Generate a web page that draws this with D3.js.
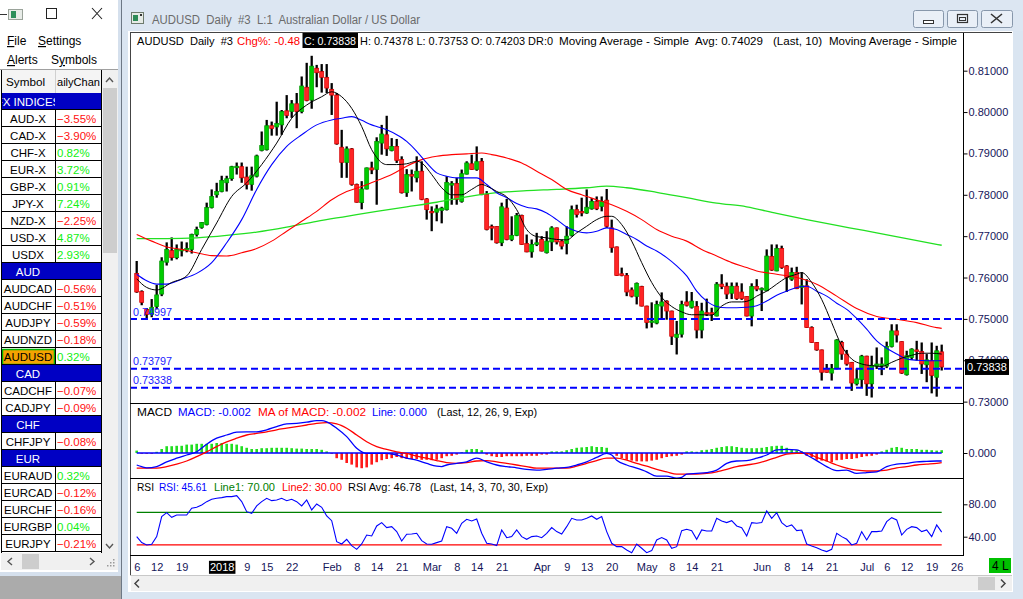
<!DOCTYPE html>
<html>
<head>
<meta charset="utf-8">
<script src="https://cdn.jsdelivr.net/npm/d3@7"></script>
<style>
body{margin:0;overflow:hidden;background:#dae5f1}
svg{display:block;font-family:"Liberation Sans",Arial,sans-serif}
</style>
</head>
<body>
<svg id="chart" width="1023" height="599"></svg>
<script>
// ---- data ----
var firstDay = "2017-12-06", lastDay = "2018-07-31";
var holidays = ["2017-12-25", "2018-01-01"];

// [open, high, low, close] per trading day
var candles = [
[0.7610,0.7640,0.7563,0.7565],[0.7566,0.7569,0.7533,0.7540],[0.7523,0.7526,0.7502,0.7511],[0.7511,0.7548,0.7504,0.7528],
[0.7530,0.7582,0.7523,0.7558],[0.7560,0.7649,0.7555,0.7640],[0.7637,0.7685,0.7629,0.7668],[0.7665,0.7697,0.7641,0.7648],
[0.7648,0.7680,0.7644,0.7668],[0.7665,0.7687,0.7651,0.7668],[0.7668,0.7685,0.7661,0.7670],[0.7668,0.7706,0.7658,0.7704],
[0.7704,0.7723,0.7699,0.7716],[0.7721,0.7734,0.7718,0.7733],[0.7728,0.7781,0.7726,0.7769],[0.7769,0.7813,0.7767,0.7796],
[0.7800,0.7829,0.7793,0.7808],[0.7808,0.7846,0.7806,0.7835],[0.7829,0.7846,0.7808,0.7839],[0.7839,0.7870,0.7834,0.7868],
[0.7866,0.7878,0.7849,0.7869],[0.7868,0.7878,0.7829,0.7841],[0.7843,0.7868,0.7813,0.7825],[0.7825,0.7868,0.7810,0.7846],
[0.7845,0.7897,0.7842,0.7894],[0.7907,0.7953,0.7905,0.7919],[0.7909,0.7981,0.7907,0.7967],[0.7967,0.7977,0.7943,0.7960],
[0.7964,0.8025,0.7943,0.7972],[0.7969,0.8005,0.7945,0.8001],[0.8003,0.8041,0.7985,0.7992],[0.8001,0.8029,0.7986,0.8020],
[0.8020,0.8046,0.7961,0.8001],[0.8001,0.8086,0.7997,0.8063],[0.8060,0.8119,0.8026,0.8028],[0.8029,0.8136,0.8008,0.8111],
[0.8106,0.8114,0.8060,0.8095],[0.8098,0.8116,0.8047,0.8084],[0.8084,0.8116,0.8046,0.8058],[0.8055,0.8070,0.7993,0.8041],
[0.8041,0.8046,0.7921,0.7923],[0.7915,0.7957,0.7841,0.7878],[0.7878,0.7917,0.7841,0.7911],[0.7911,0.7913,0.7822,0.7825],
[0.7825,0.7827,0.7781,0.7782],[0.7781,0.7833,0.7765,0.7814],[0.7814,0.7866,0.7813,0.7865],[0.7865,0.7880,0.7850,0.7860],
[0.7861,0.7939,0.7776,0.7929],[0.7925,0.7969,0.7897,0.7947],[0.7945,0.7991,0.7894,0.7911],[0.7907,0.7937,0.7905,0.7917],
[0.7917,0.7935,0.7877,0.7883],[0.7885,0.7893,0.7803,0.7805],[0.7805,0.7862,0.7795,0.7849],[0.7849,0.7861,0.7808,0.7845],
[0.7841,0.7893,0.7830,0.7857],[0.7857,0.7881,0.7787,0.7789],[0.7790,0.7792,0.7740,0.7764],[0.7760,0.7772,0.7712,0.7758],
[0.7758,0.7776,0.7736,0.7766],[0.7762,0.7771,0.7731,0.7768],[0.7764,0.7845,0.7762,0.7830],[0.7825,0.7833,0.7776,0.7827],
[0.7827,0.7841,0.7776,0.7789],[0.7784,0.7861,0.7781,0.7851],[0.7850,0.7881,0.7849,0.7877],[0.7875,0.7897,0.7860,0.7861],
[0.7861,0.7917,0.7858,0.7880],[0.7881,0.7889,0.7799,0.7801],[0.7801,0.7809,0.7714,0.7716],[0.7723,0.7728,0.7690,0.7720],
[0.7723,0.7724,0.7682,0.7684],[0.7684,0.7781,0.7676,0.7771],[0.7768,0.7790,0.7690,0.7692],[0.7692,0.7748,0.7688,0.7702],
[0.7702,0.7756,0.7700,0.7750],[0.7750,0.7752,0.7679,0.7680],[0.7682,0.7704,0.7661,0.7662],[0.7662,0.7692,0.7648,0.7680],
[0.7680,0.7708,0.7676,0.7684],[0.7692,0.7700,0.7663,0.7664],[0.7660,0.7712,0.7658,0.7688],[0.7686,0.7724,0.7664,0.7720],
[0.7720,0.7721,0.7680,0.7686],[0.7688,0.7692,0.7668,0.7676],[0.7682,0.7724,0.7656,0.7700],[0.7702,0.7774,0.7699,0.7764],
[0.7764,0.7776,0.7745,0.7752],[0.7760,0.7793,0.7748,0.7756],[0.7756,0.7813,0.7754,0.7770],[0.7766,0.7792,0.7764,0.7784],
[0.7784,0.7796,0.7763,0.7766],[0.7772,0.7796,0.7760,0.7784],[0.7787,0.7814,0.7720,0.7724],[0.7720,0.7740,0.7660,0.7672],
[0.7674,0.7675,0.7604,0.7605],[0.7609,0.7624,0.7603,0.7605],[0.7605,0.7611,0.7555,0.7565],[0.7570,0.7576,0.7552,0.7555],
[0.7554,0.7588,0.7535,0.7586],[0.7578,0.7580,0.7530,0.7531],[0.7531,0.7532,0.7477,0.7491],[0.7493,0.7540,0.7479,0.7495],
[0.7490,0.7544,0.7487,0.7535],[0.7531,0.7564,0.7499,0.7541],[0.7543,0.7545,0.7498,0.7519],[0.7519,0.7520,0.7437,0.7458],
[0.7455,0.7495,0.7414,0.7463],[0.7463,0.7544,0.7455,0.7535],[0.7541,0.7567,0.7530,0.7533],[0.7528,0.7565,0.7525,0.7543],
[0.7530,0.7543,0.7453,0.7473],[0.7473,0.7539,0.7453,0.7519],[0.7515,0.7549,0.7507,0.7512],[0.7515,0.7527,0.7495,0.7512],
[0.7507,0.7589,0.7506,0.7584],[0.7584,0.7608,0.7572,0.7578],[0.7579,0.7588,0.7548,0.7560],[0.7562,0.7588,0.7548,0.7579],
[0.7579,0.7588,0.7546,0.7549],[0.7565,0.7586,0.7546,0.7549],[0.7554,0.7555,0.7506,0.7507],[0.7507,0.7586,0.7482,0.7578],
[0.7578,0.7596,0.7567,0.7572],[0.7570,0.7576,0.7519,0.7574],[0.7568,0.7668,0.7567,0.7652],[0.7651,0.7680,0.7616,0.7618],
[0.7616,0.7680,0.7615,0.7670],[0.7670,0.7677,0.7621,0.7624],[0.7628,0.7630,0.7565,0.7600],[0.7596,0.7624,0.7592,0.7612],
[0.7612,0.7626,0.7572,0.7573],[0.7576,0.7613,0.7535,0.7580],[0.7580,0.7596,0.7478,0.7479],[0.7479,0.7482,0.7442,0.7443],
[0.7443,0.7444,0.7423,0.7425],[0.7425,0.7426,0.7351,0.7371],[0.7380,0.7391,0.7370,0.7371],[0.7369,0.7391,0.7351,0.7380],
[0.7380,0.7451,0.7378,0.7449],[0.7443,0.7447,0.7401,0.7415],[0.7415,0.7425,0.7387,0.7391],[0.7395,0.7396,0.7326,0.7345],
[0.7343,0.7380,0.7339,0.7355],[0.7353,0.7413,0.7335,0.7410],[0.7410,0.7411,0.7314,0.7343],[0.7343,0.7411,0.7310,0.7387],
[0.7386,0.7431,0.7379,0.7391],[0.7387,0.7407,0.7364,0.7391],[0.7386,0.7445,0.7381,0.7433],[0.7433,0.7487,0.7431,0.7471],
[0.7471,0.7487,0.7443,0.7461],[0.7445,0.7446,0.7367,0.7369],[0.7365,0.7423,0.7363,0.7411],[0.7407,0.7429,0.7401,0.7427],
[0.7425,0.7447,0.7399,0.7421],[0.7421,0.7443,0.7367,0.7391],[0.7389,0.7415,0.7347,0.7401],[0.7399,0.7443,0.7320,0.7363],
[0.7359,0.7435,0.7312,0.7423],[0.74203,0.74378,0.73753,0.73838]
];

// moving averages: [bar number, value]
var ma10 = [[0,0.7597],[2,0.7576],[4,0.7570],[7,0.7588],[10,0.7604],[13,0.7668],[16,0.7732],[19,0.7796],[22,0.7829],[25,0.7873],[28,0.7925],[31,0.7985],[34,0.8017],[37,0.8037],[39,0.8049],[41,0.8037],[43,0.8009],[45,0.7965],[47,0.7909],[48,0.7890],[50,0.7873],[52,0.7873],[54,0.7875],[56,0.7881],[57,0.7877],[59,0.7849],[61,0.7817],[63,0.7800],[65,0.7800],[67,0.7813],[69,0.7825],[70,0.7821],[72,0.7808],[74,0.7795],[76,0.7764],[78,0.7716],[80,0.7699],[82,0.7696],[84,0.7692],[86,0.7691],[88,0.7708],[90,0.7724],[92,0.7740],[94,0.7748],[95,0.7748],[97,0.7728],[99,0.7688],[101,0.7636],[103,0.7588],[105,0.7552],[107,0.7530],[109,0.7517],[111,0.7510],[113,0.7510],[115,0.7509],[117,0.7531],[119,0.7541],[121,0.7541],[123,0.7547],[124,0.7555],[126,0.7567],[128,0.7584],[130,0.7600],[132,0.7608],[133,0.7612],[135,0.7588],[137,0.7547],[139,0.7491],[141,0.7435],[143,0.7403],[145,0.7391],[147,0.7387],[149,0.7385],[151,0.7395],[153,0.7405],[155,0.7412],[157,0.7417],[159,0.7417],[161,0.7415]];
var ma20 = [[0,0.7608],[2,0.7592],[4,0.7584],[6,0.7584],[9,0.7596],[12,0.7610],[15,0.7636],[18,0.7684],[21,0.7740],[24,0.7813],[27,0.7873],[30,0.7917],[33,0.7945],[36,0.7969],[39,0.7981],[41,0.7985],[43,0.7989],[45,0.7980],[47,0.7969],[48,0.7965],[50,0.7957],[52,0.7945],[54,0.7929],[56,0.7905],[58,0.7877],[60,0.7853],[62,0.7845],[64,0.7841],[66,0.7841],[68,0.7841],[70,0.7825],[72,0.7805],[74,0.7793],[76,0.7779],[78,0.7770],[80,0.7766],[82,0.7756],[84,0.7740],[86,0.7722],[88,0.7712],[90,0.7708],[92,0.7712],[94,0.7720],[96,0.7716],[98,0.7704],[100,0.7692],[102,0.7676],[104,0.7664],[106,0.7648],[108,0.7628],[110,0.7604],[112,0.7567],[114,0.7543],[116,0.7530],[118,0.7527],[120,0.7527],[122,0.7528],[124,0.7532],[126,0.7543],[128,0.7557],[130,0.7567],[132,0.7576],[134,0.7579],[136,0.7567],[138,0.7555],[140,0.7538],[142,0.7523],[144,0.7501],[146,0.7475],[148,0.7447],[150,0.7429],[152,0.7415],[154,0.7403],[156,0.7400],[158,0.7399],[160,0.7399],[161,0.7399]];
var ma50 = [[0,0.7704],[3,0.7688],[6,0.7674],[9,0.7668],[12,0.7660],[15,0.7653],[18,0.7652],[21,0.7660],[24,0.7670],[27,0.7688],[30,0.7712],[33,0.7736],[36,0.7760],[39,0.7788],[42,0.7808],[45,0.7820],[48,0.7834],[51,0.7849],[54,0.7869],[57,0.7885],[60,0.7893],[63,0.7897],[66,0.7899],[69,0.7901],[71,0.7897],[74,0.7889],[77,0.7877],[80,0.7857],[83,0.7837],[86,0.7813],[89,0.7800],[92,0.7788],[95,0.7776],[98,0.7760],[101,0.7740],[104,0.7716],[107,0.7700],[110,0.7688],[113,0.7668],[116,0.7652],[119,0.7636],[122,0.7624],[124,0.7616],[128,0.7608],[132,0.7600],[136,0.7584],[140,0.7555],[144,0.7525],[148,0.7506],[152,0.7499],[156,0.7491],[160,0.7479],[161,0.7477]];
var ma200 = [[0,0.7694],[6,0.7694],[12,0.7696],[18,0.7702],[24,0.7710],[30,0.7722],[36,0.7736],[42,0.7748],[48,0.7760],[54,0.7771],[60,0.7782],[66,0.7795],[72,0.7805],[78,0.7810],[84,0.7813],[90,0.7817],[94,0.7821],[98,0.7817],[104,0.7806],[110,0.7793],[116,0.7780],[122,0.7771],[128,0.7755],[134,0.7740],[140,0.7726],[144,0.7717],[148,0.7708],[154,0.7694],[161,0.7678]];

// MACD (12, 26, 9)
var macdLine = [[0,-0.0030],[1,-0.0034],[2,-0.0037],[4,-0.0034],[6,-0.0022],[8,-0.0013],[10,-0.0005],[12,0.0003],[14,0.0022],[16,0.0037],[18,0.0045],[20,0.0052],[22,0.0053],[24,0.0053],[26,0.0058],[28,0.0066],[30,0.0073],[32,0.0074],[34,0.0077],[36,0.0081],[37,0.0081],[38,0.0078],[40,0.0062],[42,0.0041],[44,0.0012],[46,-0.0001],[48,-0.0001],[50,-0.0001],[52,-0.0005],[54,-0.0013],[56,-0.0018],[58,-0.0026],[60,-0.0033],[61,-0.0034],[62,-0.0030],[64,-0.0026],[66,-0.0022],[68,-0.0013],[70,-0.0022],[72,-0.0030],[74,-0.0034],[76,-0.0037],[78,-0.0041],[80,-0.0043],[82,-0.0041],[84,-0.0038],[86,-0.0036],[88,-0.0030],[90,-0.0022],[92,-0.0011],[94,-0.0001],[95,-0.0005],[96,-0.0018],[98,-0.0030],[100,-0.0038],[102,-0.0047],[104,-0.0058],[106,-0.0058],[108,-0.0063],[109,-0.0061],[110,-0.0053],[112,-0.0051],[114,-0.0049],[116,-0.0043],[118,-0.0026],[120,-0.0020],[122,-0.0019],[124,-0.0013],[126,-0.0005],[128,0.0008],[130,0.0009],[132,0.0008],[134,-0.0005],[136,-0.0019],[138,-0.0034],[140,-0.0044],[142,-0.0043],[144,-0.0051],[146,-0.0049],[148,-0.0047],[150,-0.0034],[152,-0.0028],[154,-0.0026],[156,-0.0022],[158,-0.0021],[160,-0.0020],[161,-0.0020]];
var macdSignal = [[0,-0.0038],[2,-0.0038],[4,-0.0038],[6,-0.0034],[8,-0.0028],[10,-0.0020],[12,-0.0009],[14,0.0003],[16,0.0016],[18,0.0028],[20,0.0037],[22,0.0045],[24,0.0049],[26,0.0053],[28,0.0058],[30,0.0062],[32,0.0066],[34,0.0070],[36,0.0074],[38,0.0076],[40,0.0073],[42,0.0062],[44,0.0045],[46,0.0028],[48,0.0016],[50,0.0009],[52,0.0003],[54,-0.0001],[56,-0.0008],[58,-0.0013],[60,-0.0019],[62,-0.0024],[64,-0.0026],[66,-0.0024],[68,-0.0020],[70,-0.0019],[72,-0.0022],[74,-0.0026],[76,-0.0030],[78,-0.0034],[80,-0.0038],[82,-0.0038],[84,-0.0038],[86,-0.0038],[88,-0.0033],[90,-0.0026],[92,-0.0019],[94,-0.0013],[96,-0.0013],[98,-0.0018],[100,-0.0026],[102,-0.0033],[104,-0.0041],[106,-0.0047],[108,-0.0053],[110,-0.0053],[112,-0.0053],[114,-0.0051],[116,-0.0047],[118,-0.0041],[120,-0.0034],[122,-0.0030],[124,-0.0026],[126,-0.0019],[128,-0.0011],[130,-0.0003],[132,-0.0001],[134,-0.0001],[136,-0.0011],[138,-0.0020],[140,-0.0030],[142,-0.0038],[144,-0.0043],[146,-0.0045],[148,-0.0045],[150,-0.0043],[152,-0.0037],[154,-0.0034],[156,-0.0030],[158,-0.0028],[160,-0.0026],[161,-0.0024]];
var macdHist = [0.0006,-0.0002,-0.0002,-0.0002,0.0003,0.0010,0.0017,0.0017,0.0018,0.0018,
0.0021,0.0021,0.0023,0.0023,0.0023,0.0023,0.0025,0.0025,0.0023,0.0023,
0.0021,0.0017,0.0013,0.0010,0.0010,0.0012,0.0012,0.0013,0.0013,0.0013,
0.0013,0.0012,0.0011,0.0011,0.0010,0.0010,0.0010,0.0008,0.0004,-0.0002,
-0.0013,-0.0017,-0.0025,-0.0029,-0.0036,-0.0038,-0.0036,-0.0029,-0.0023,-0.0018,
-0.0015,-0.0013,-0.0010,-0.0013,-0.0015,-0.0015,-0.0015,-0.0017,-0.0017,-0.0018,
-0.0017,-0.0013,-0.0008,-0.0007,-0.0004,0.0002,0.0008,0.0010,0.0010,0.0007,
-0.0004,-0.0008,-0.0010,-0.0010,-0.0008,-0.0008,-0.0008,-0.0008,-0.0007,-0.0007,
-0.0007,-0.0004,-0.0004,0.0004,0.0004,0.0004,0.0007,0.0010,0.0013,0.0014,
0.0015,0.0017,0.0015,0.0015,0.0013,-0.0001,-0.0007,-0.0013,-0.0017,-0.0019,
-0.0021,-0.0021,-0.0021,-0.0019,-0.0017,-0.0013,-0.0010,-0.0008,-0.0007,-0.0004,
0.0004,0.0004,0.0003,0.0007,0.0008,0.0010,0.0013,0.0015,0.0017,0.0017,
0.0015,0.0013,0.0012,0.0012,0.0012,0.0013,0.0015,0.0017,0.0018,0.0018,
0.0013,0.0008,0.0007,0.0004,-0.0007,-0.0010,-0.0017,-0.0019,-0.0021,-0.0023,
-0.0018,-0.0017,-0.0015,-0.0015,-0.0013,-0.0010,-0.0008,-0.0007,-0.0004,0.0004,
0.0008,0.0013,0.0015,0.0013,0.0010,0.0010,0.0010,0.0008,0.0008,0.0007,
0.0006,0.0007];

// RSI (14)
var rsi = [40.1,32.7,29.8,30.6,40.1,64.8,69.7,63.9,66.8,66.8,
66.8,75.1,76.3,79.2,83.3,86.2,87.4,88.2,89.5,89.5,
90.7,83.3,70.9,68.9,78.0,83.3,87.4,84.5,85.3,87.4,
84.5,86.2,83.3,78.0,85.3,73.0,80.4,76.3,65.6,59.8,
33.9,31.0,36.8,29.0,24.4,31.0,42.1,40.9,53.3,57.4,
51.2,52.4,46.3,34.7,43.0,43.4,44.2,35.2,31.0,30.6,
32.7,34.7,52.4,50.4,44.2,56.6,61.5,59.4,61.9,44.2,
31.9,31.0,29.0,48.3,38.8,40.1,48.3,40.1,36.8,40.1,
40.9,38.8,44.2,51.2,46.3,43.4,52.4,62.7,60.7,60.7,
62.7,65.6,61.5,64.8,46.3,31.9,27.7,27.7,23.6,20.3,
31.0,25.7,20.3,22.8,36.0,38.9,36.0,25.7,27.7,47.5,
49.1,47.5,36.8,48.3,47.1,47.1,62.7,59.4,57.4,59.8,
53.3,51.2,40.9,57.4,56.6,57.4,71.8,62.7,69.7,57.4,
52.4,54.5,47.5,48.3,31.0,28.6,26.5,23.6,21.6,24.4,
44.2,40.1,36.8,29.8,31.9,46.3,36.0,46.3,46.3,47.1,
58.6,63.5,60.7,42.1,49.1,52.4,51.2,46.3,48.3,40.1,
54.5,45.6];
var rsiLevels = [70, 30];

var priceTicks = [0.81, 0.80, 0.79, 0.78, 0.77, 0.76, 0.75, 0.74, 0.73];
var priceLevels = [0.74997, 0.73797, 0.73338];
var lastClose = 0.73838;
var macdTicks = [0];
var rsiTicks = [80, 40];

var dateTicks = [["2017-12-06","6"],["2017-12-12","12"],["2017-12-19","19"],["2018-01-02","2018"],["2018-01-09","9"],
["2018-01-15","15"],["2018-01-22","22"],["2018-02-01","Feb"],["2018-02-08","8"],["2018-02-14","14"],["2018-02-21","21"],
["2018-03-01","Mar"],["2018-03-08","8"],["2018-03-14","14"],["2018-03-21","21"],["2018-04-02","Apr"],["2018-04-09","9"],
["2018-04-13","13"],["2018-04-20","20"],["2018-05-01","May"],["2018-05-08","8"],["2018-05-14","14"],["2018-05-21","21"],
["2018-06-01","Jun"],["2018-06-08","8"],["2018-06-14","14"],["2018-06-21","21"],["2018-07-02","Jul"],["2018-07-06","6"],
["2018-07-12","12"],["2018-07-19","19"],["2018-07-26","26"]];

// watch list
var watchSymbols = ["FX INDICES","AUD-X","CAD-X","CHF-X","EUR-X","GBP-X","JPY-X","NZD-X","USD-X","USDX",
"AUD","AUDCAD","AUDCHF","AUDJPY","AUDNZD","AUDUSD","CAD","CADCHF","CADJPY","CHF","CHFJPY",
"EUR","EURAUD","EURCAD","EURCHF","EURGBP","EURJPY"];
var watchChanges = [null,-3.55,-3.90,0.82,3.72,0.91,7.24,-2.25,4.87,2.93,
null,-0.56,-0.51,-0.59,-0.18,0.32,null,-0.07,-0.09,null,-0.08,
null,0.32,-0.12,-0.16,0.04,-0.21];
var selectedSymbol = "AUDUSD";

// ---- setup ----
var svg = d3.select("#chart");
var fmtDay = d3.timeFormat("%Y-%m-%d");
var parseDay = d3.timeParse("%Y-%m-%d");
var days = d3.timeDay.range(parseDay(firstDay), parseDay(lastDay))
  .filter(function(d){ return d.getDay() % 6 !== 0 && holidays.indexOf(fmtDay(d)) < 0; })
  .map(fmtDay);
var dayIndex = new Map(days.map(function(d, i){ return [d, i]; }));

var left = 130, right = 963;
var x = d3.scaleLinear().domain([-1.34, 165.26]).range([left, right]);
var yP = d3.scaleLinear().domain([0.72967, 0.81911]).range([403, 33]);
var yM = d3.scaleLinear().domain([-0.00625, 0.0125]).range([478, 403]);
var yR = d3.scaleLinear().domain([17.41, 112.47]).range([555, 478]);

function txt(g, xx, yy, s, color, width, size){
  var t = g.append("text").attr("x", xx).attr("y", yy).attr("fill", color || "#000")
    .style("font-size", (size || 11) + "px").style("white-space", "pre").text(s);
  if (width) t.attr("textLength", width).attr("lengthAdjust", "spacingAndGlyphs");
  return t;
}

// ---- left window (watch list) ----
var lw = svg.append("g");
lw.append("rect").attr("x", 0).attr("y", 0).attr("width", 118).attr("height", 572).attr("fill", "#fff");
lw.append("rect").attr("x", 0).attr("y", 572).attr("width", 121).attr("height", 4).attr("fill", "#d5e0ed");
lw.append("rect").attr("x", 0).attr("y", 576).attr("width", 121).attr("height", 23).attr("fill", "#ababab");
lw.append("rect").attr("x", 118).attr("y", 0).attr("width", 3).attr("height", 576).attr("fill", "#d5e0ed");
lw.append("line").attr("x1", 121.5).attr("x2", 121.5).attr("y1", 0).attr("y2", 599).attr("stroke", "#6d7885");

// title icons
lw.append("line").attr("x1", 0).attr("x2", 7).attr("y1", 14.5).attr("y2", 14.5).attr("stroke", "#333");
lw.append("rect").attr("x", 8.5).attr("y", 9.5).attr("width", 14).attr("height", 10).attr("fill", "#e8ece8").attr("stroke", "#9aa39a");
lw.append("rect").attr("x", 11).attr("y", 11).attr("width", 5).attr("height", 7).attr("fill", "#2d8f5a");
lw.append("rect").attr("x", 46.5).attr("y", 8.5).attr("width", 10).attr("height", 10).attr("fill", "none").attr("stroke", "#222");
lw.append("path").attr("d", "M92,8 L102,19 M102,8 L92,19").attr("stroke", "#222").attr("stroke-width", 1.1);

// menu
function menuItem(xx, yy, first, rest, under){
  var t = lw.append("text").attr("x", xx).attr("y", yy).style("font-size", "12px").attr("fill", "#000");
  if (under === 0) {
    t.append("tspan").attr("text-decoration", "underline").text(first);
    t.append("tspan").text(rest);
  } else {
    t.append("tspan").text(first);
    t.append("tspan").attr("text-decoration", "underline").text(rest.charAt(0));
    t.append("tspan").text(rest.slice(1));
  }
}
menuItem(7, 45, "F", "ile", 0);
menuItem(38, 45, "S", "ettings", 0);
menuItem(7, 64, "A", "lerts", 0);
menuItem(51, 64, "S", "ymbols", 1);

// table
var tbl = lw.append("g");
tbl.append("defs").append("clipPath").attr("id", "col1clip")
  .append("rect").attr("x", 1).attr("y", 60).attr("width", 54).attr("height", 500);
tbl.append("rect").attr("x", 1).attr("y", 70).attr("width", 100).attr("height", 23).attr("fill", "#f4f4f4");
tbl.append("line").attr("x1", 0).attr("x2", 118).attr("y1", 69.5).attr("y2", 69.5).attr("stroke", "#a0a0a0");
tbl.append("line").attr("x1", 55.5).attr("x2", 55.5).attr("y1", 70).attr("y2", 93).attr("stroke", "#d0d0d0");
txt(tbl, 6, 86, "Symbol", "#000", 39, 11.5);
txt(tbl, 57, 86, "ailyChan", "#000", 43, 11.5);

var rowTop = 93, rowH = 17;
watchSymbols.forEach(function(sym, k){
  var ry = rowTop + k * rowH;
  var chg = watchChanges[k];
  if (chg === null) {
    tbl.append("rect").attr("x", 1).attr("y", ry).attr("width", 100).attr("height", rowH).attr("fill", "#0000c4");
    tbl.append("text").attr("x", 28).attr("y", ry + 13).attr("text-anchor", "middle")
      .attr("clip-path", "url(#col1clip)").attr("fill", "#fff").style("font-size", "11.5px").text(sym);
  } else {
    if (sym === selectedSymbol) {
      tbl.append("rect").attr("x", 2.5).attr("y", ry + 1.5).attr("width", 52).attr("height", rowH - 2)
        .attr("fill", "#f4a300").attr("stroke", "#00b400").attr("stroke-width", 1.5);
    }
    tbl.append("text").attr("x", 28).attr("y", ry + 13).attr("text-anchor", "middle")
      .attr("fill", "#000").style("font-size", "11.5px").text(sym);
    tbl.append("text").attr("x", 57).attr("y", ry + 13)
      .attr("fill", chg < 0 ? "#ff1010" : "#10f010").style("font-size", "11.5px")
      .text(d3.format(".2f")(chg) + "%");
    tbl.append("line").attr("x1", 55.5).attr("x2", 55.5).attr("y1", ry).attr("y2", ry + rowH).attr("stroke", "#000");
  }
  tbl.append("line").attr("x1", 1).attr("x2", 101).attr("y1", ry + rowH - 0.5).attr("y2", ry + rowH - 0.5).attr("stroke", "#000");
});
tbl.append("line").attr("x1", 1.5).attr("x2", 1.5).attr("y1", 70).attr("y2", 553).attr("stroke", "#000");
tbl.append("line").attr("x1", 101.5).attr("x2", 101.5).attr("y1", 70).attr("y2", 553).attr("stroke", "#000");

// scroll bars of the list
lw.append("rect").attr("x", 102).attr("y", 70).attr("width", 16).attr("height", 483).attr("fill", "#f0f0f0");
lw.append("rect").attr("x", 103).attr("y", 88).attr("width", 14).attr("height", 165).attr("fill", "#cdcdcd");
lw.append("path").attr("d", "M106,82 L109.5,78 L113,82").attr("fill", "none").attr("stroke", "#555").attr("stroke-width", 1.4);
lw.append("path").attr("d", "M106,544 L109.5,548 L113,544").attr("fill", "none").attr("stroke", "#555").attr("stroke-width", 1.4);
lw.append("rect").attr("x", 1).attr("y", 553).attr("width", 117).attr("height", 17).attr("fill", "#f0f0f0");
lw.append("rect").attr("x", 22).attr("y", 554).attr("width", 17).attr("height", 15).attr("fill", "#cdcdcd");
lw.append("path").attr("d", "M12,558 L8,561.5 L12,565").attr("fill", "none").attr("stroke", "#555").attr("stroke-width", 1.4);
lw.append("path").attr("d", "M90,558 L94,561.5 L90,565").attr("fill", "none").attr("stroke", "#555").attr("stroke-width", 1.4);
lw.selectAll(".grip").data([[113,559],[110,562],[113,562],[107,565],[110,565],[113,565]]).enter()
  .append("rect").attr("x", function(d){return d[0];}).attr("y", function(d){return d[1];})
  .attr("width", 1.5).attr("height", 1.5).attr("fill", "#999");

// ---- chart window frame ----
var cw = svg.append("g");
cw.append("rect").attr("x", 122).attr("y", 0).attr("width", 901).attr("height", 31).attr("fill", "#dce6f2");
cw.append("rect").attr("x", 131.5).attr("y", 12.5).attr("width", 12).attr("height", 11).attr("fill", "#e6ebe6").attr("stroke", "#6d7a6d");
cw.append("rect").attr("x", 133).attr("y", 15).attr("width", 5).attr("height", 6).attr("fill", "#2e8b57");
cw.append("rect").attr("x", 140).attr("y", 14).attr("width", 2).attr("height", 2).attr("fill", "#333");
txt(cw, 152, 24, "AUDUSD  Daily  #3  L:1  Australian Dollar / US Dollar", "#6b6b6b", 268, 12.5);
[[913, 943], [947, 977], [981, 1012]].forEach(function(b){
  cw.append("rect").attr("x", b[0] + 0.5).attr("y", 10.5).attr("width", b[1] - b[0]).attr("height", 17)
    .attr("rx", 2).attr("fill", "#e9eff7").attr("stroke", "#8797ab");
});
cw.append("rect").attr("x", 923.5).attr("y", 20.5).attr("width", 10).attr("height", 3).attr("fill", "#fff").attr("stroke", "#333");
cw.append("rect").attr("x", 957.5).attr("y", 14.5).attr("width", 10).attr("height", 8).attr("fill", "none").attr("stroke", "#333").attr("stroke-width", 1.2);
cw.append("rect").attr("x", 959.5).attr("y", 17.5).attr("width", 6).attr("height", 3).attr("fill", "none").attr("stroke", "#333");
cw.append("path").attr("d", "M991,14 L1002,23 M1002,14 L991,23").attr("stroke", "#333").attr("stroke-width", 1.6);

cw.append("rect").attr("x", 128).attr("y", 31).attr("width", 885).attr("height", 561).attr("fill", "#fff");
cw.append("line").attr("x1", 130.5).attr("x2", 130.5).attr("y1", 32).attr("y2", 575).attr("stroke", "#444");
cw.append("line").attr("x1", 130).attr("x2", 1012).attr("y1", 32.5).attr("y2", 32.5).attr("stroke", "#444");

// bottom scroll bar
cw.append("rect").attr("x", 131).attr("y", 576).attr("width", 881).attr("height", 15).attr("fill", "#f0f0f0");
cw.append("line").attr("x1", 130).attr("x2", 1012).attr("y1", 575.5).attr("y2", 575.5).attr("stroke", "#c8c8c8");
cw.append("rect").attr("x", 978).attr("y", 577).attr("width", 17).attr("height", 13).attr("fill", "#cdcdcd");
cw.append("path").attr("d", "M139,579.5 L135,583.5 L139,587.5").attr("fill", "none").attr("stroke", "#444").attr("stroke-width", 1.5);
cw.append("path").attr("d", "M1001,579.5 L1005,583.5 L1001,587.5").attr("fill", "none").attr("stroke", "#444").attr("stroke-width", 1.5);

// ---- panels ----
var defs = svg.append("defs");
defs.append("clipPath").attr("id", "pclip").append("rect").attr("x", left + 1).attr("y", 33).attr("width", right - left - 1).attr("height", 370);
defs.append("clipPath").attr("id", "mclip").append("rect").attr("x", left + 1).attr("y", 404).attr("width", right - left - 1).attr("height", 74);
defs.append("clipPath").attr("id", "rclip").append("rect").attr("x", left + 1).attr("y", 479).attr("width", right - left - 1).attr("height", 76);

var lineGen = function(ys){
  return d3.line().x(function(d){ return x(d[0]); }).y(function(d){ return ys(d[1]); }).curve(d3.curveMonotoneX);
};

// price panel
var pp = svg.append("g").attr("clip-path", "url(#pclip)");
var bars = pp.selectAll("g.candle").data(candles).enter().append("g").attr("class", "candle");
bars.append("line")
  .attr("x1", function(d, i){ return x(i); }).attr("x2", function(d, i){ return x(i); })
  .attr("y1", function(d){ return yP(d[1]); }).attr("y2", function(d){ return yP(d[2]); })
  .attr("stroke", "#000").attr("stroke-width", 2.3);
bars.append("rect")
  .attr("x", function(d, i){ return x(i) - 2; }).attr("width", 4)
  .attr("y", function(d){ return Math.min(yP(d[0]), yP(d[3])); })
  .attr("height", function(d){ return Math.max(1.5, Math.abs(yP(d[0]) - yP(d[3]))); })
  .attr("fill", function(d){ return d[3] >= d[0] ? "#00cc00" : "#ff2525"; })
  .attr("stroke", function(d){ return d[3] >= d[0] ? "#009400" : "#d00000"; })
  .attr("stroke-width", 0.7);

[[ma200, "#22e022", 1.3], [ma50, "#ff0000", 1.1], [ma20, "#0000ff", 1.1], [ma10, "#000", 1]].forEach(function(m){
  pp.append("path").datum(m[0]).attr("d", lineGen(yP)).attr("fill", "none").attr("stroke", m[1]).attr("stroke-width", m[2]);
});

priceLevels.forEach(function(v){
  pp.append("line").attr("x1", left).attr("x2", right).attr("y1", yP(v)).attr("y2", yP(v))
    .attr("stroke", "#0000ff").attr("stroke-width", 2).attr("stroke-dasharray", "7,4");
  txt(svg, 133, yP(v) - 3.5, d3.format(".5f")(v), "#1a1aff", null, 10.8);
});

// header of price panel
var hd = svg.append("g");
txt(hd, 137, 45, "AUDUSD  Daily  #3", "#000", 96);
txt(hd, 237, 45, "Chg%: -0.48", "#ff0000", 63);
hd.append("rect").attr("x", 302.5).attr("y", 33).attr("width", 55.5).attr("height", 15).attr("fill", "#000");
txt(hd, 304, 45, "C: " + d3.format(".5f")(lastClose), "#fff", 52);
txt(hd, 360, 45, "H: 0.74378 L: 0.73753 O: 0.74203 DR:0", "#000", 193);
txt(hd, 559, 45, "Moving Average - Simple", "#000", 130);
txt(hd, 695, 45, "Avg: 0.74029", "#000", 68);
txt(hd, 773, 45, "(Last, 10)", "#000", 49);
txt(hd, 829, 45, "Moving Average - Simple", "#000", 128);

// MACD panel
var mp = svg.append("g").attr("clip-path", "url(#mclip)");
mp.selectAll("rect.hist").data(macdHist).enter().append("rect").attr("class", "hist")
  .attr("x", function(d, i){ return x(i) - 1.3; }).attr("width", 2.6)
  .attr("y", function(d){ return Math.min(yM(d), yM(0)); })
  .attr("height", function(d){ return Math.abs(yM(d) - yM(0)); })
  .attr("fill", function(d){ return d >= 0 ? "#22dd22" : "#ff1a1a"; });
mp.append("line").attr("x1", x(0)).attr("x2", x(161)).attr("y1", yM(0)).attr("y2", yM(0))
  .attr("stroke", "#0000ff").attr("stroke-width", 1.3);
mp.append("path").datum(macdSignal).attr("d", lineGen(yM)).attr("fill", "none").attr("stroke", "#ff0000").attr("stroke-width", 1.3);
mp.append("path").datum(macdLine).attr("d", lineGen(yM)).attr("fill", "none").attr("stroke", "#0000ff").attr("stroke-width", 1.3);

var mh = svg.append("g");
txt(mh, 137, 416, "MACD", "#000", 35);
txt(mh, 178, 416, "MACD: -0.002", "#0000ff", 73);
txt(mh, 258, 416, "MA of MACD: -0.002", "#ff0000", 108);
txt(mh, 372, 416, "Line: 0.000", "#0000ff", 55);
txt(mh, 437, 416, "(Last, 12, 26, 9, Exp)", "#000", 100);

// RSI panel
var rp = svg.append("g").attr("clip-path", "url(#rclip)");
rp.append("line").attr("x1", x(0)).attr("x2", x(161)).attr("y1", yR(rsiLevels[0])).attr("y2", yR(rsiLevels[0]))
  .attr("stroke", "#008000").attr("stroke-width", 1.3);
rp.append("line").attr("x1", x(0)).attr("x2", x(161)).attr("y1", yR(rsiLevels[1])).attr("y2", yR(rsiLevels[1]))
  .attr("stroke", "#ff0000").attr("stroke-width", 1.3);
rp.append("path").datum(rsi).attr("d", d3.line().x(function(d, i){ return x(i); }).y(function(d){ return yR(d); }))
  .attr("fill", "none").attr("stroke", "#0000ff").attr("stroke-width", 1.1);

var rh = svg.append("g");
txt(rh, 137, 491, "RSI", "#000", 17);
txt(rh, 159, 491, "RSI: 45.61", "#0000ff", 48);
txt(rh, 214, 491, "Line1: 70.00", "#008000", 61);
txt(rh, 282, 491, "Line2: 30.00", "#ff0000", 60);
txt(rh, 348, 491, "RSI Avg: 46.78", "#000", 73);
txt(rh, 430, 491, "(Last, 14, 3, 70, 30, Exp)", "#000", 118);

// separators and axis lines
svg.append("line").attr("x1", left).attr("x2", right).attr("y1", 403.5).attr("y2", 403.5).attr("stroke", "#000");
svg.append("line").attr("x1", left).attr("x2", right).attr("y1", 478.5).attr("y2", 478.5).attr("stroke", "#000");
svg.append("line").attr("x1", left).attr("x2", right + 1).attr("y1", 555.5).attr("y2", 555.5).attr("stroke", "#000");
svg.append("line").attr("x1", right + 0.5).attr("x2", right + 0.5).attr("y1", 33).attr("y2", 556).attr("stroke", "#000");

function styleAxis(g){
  g.select(".domain").remove();
  g.attr("font-family", null).attr("font-size", null);
  g.selectAll(".tick line").attr("stroke", "#000");
  g.selectAll("text").attr("fill", "#15155a").style("font-size", "11px");
}
svg.append("g").attr("transform", "translate(" + (right + 0.5) + ",0)")
  .call(d3.axisRight(yP).tickValues(priceTicks).tickFormat(d3.format(".5f")).tickSize(4).tickPadding(1))
  .call(styleAxis);
svg.append("g").attr("transform", "translate(" + (right + 0.5) + ",0)")
  .call(d3.axisRight(yM).tickValues(macdTicks).tickFormat(d3.format(".3f")).tickSize(4).tickPadding(1))
  .call(styleAxis);
svg.append("g").attr("transform", "translate(" + (right + 0.5) + ",0)")
  .call(d3.axisRight(yR).tickValues(rsiTicks).tickFormat(d3.format(".2f")).tickSize(4).tickPadding(1))
  .call(styleAxis);

// last price marker
var lp = svg.append("g");
lp.append("rect").attr("x", 965).attr("y", yP(lastClose) - 8).attr("width", 44).attr("height", 16).attr("fill", "#000");
txt(lp, 967, yP(lastClose) + 4, d3.format(".5f")(lastClose), "#fff", null, 11);

// date axis
var tickMap = new Map(dateTicks.map(function(t){ return [dayIndex.get(t[0]), t[1]]; }));
var xa = svg.append("g").attr("transform", "translate(0,555)")
  .call(d3.axisBottom(x).tickValues(Array.from(tickMap.keys())).tickFormat(function(i){ return tickMap.get(i); })
    .tickSize(0).tickPadding(8))
  .call(styleAxis);
xa.selectAll(".tick").filter(function(i){ return tickMap.get(i) === "2018"; }).each(function(){
  var t = d3.select(this).select("text");
  var bb = t.node().getBBox();
  d3.select(this).insert("rect", "text").attr("x", bb.x - 1).attr("y", bb.y).attr("width", bb.width + 2).attr("height", bb.height + 1).attr("fill", "#000");
  t.attr("fill", "#fff");
});

// bottom-right status box
svg.append("rect").attr("x", 989).attr("y", 558).attr("width", 22).attr("height", 15).attr("fill", "#00c000");
txt(svg, 992, 570, "4 L", "#000", null, 12);
</script>
</body>
</html>
